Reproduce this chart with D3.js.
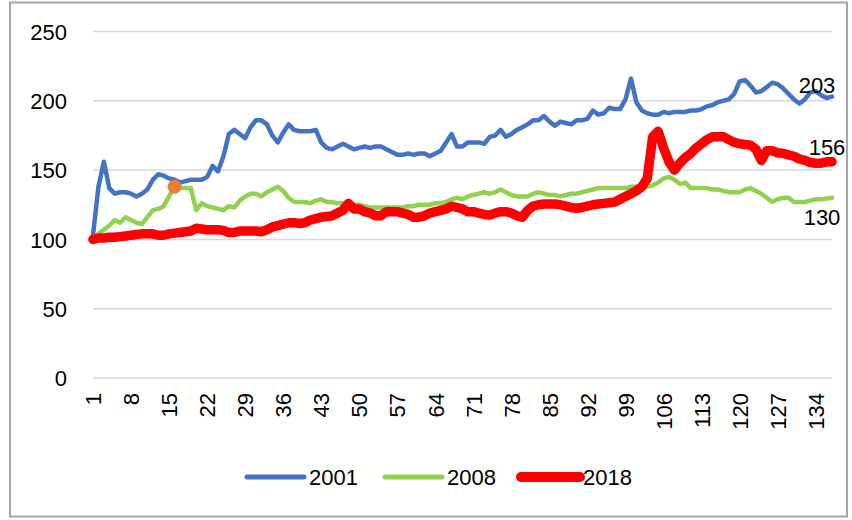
<!DOCTYPE html>
<html>
<head>
<meta charset="utf-8">
<script src="https://cdn.jsdelivr.net/npm/d3@7"></script>
<style>
  body { margin: 0; background: #fff; }
  text { font-family: "Liberation Sans", Arial, sans-serif; fill: #000; }
</style>
</head>
<body>
<div id="app"></div>
<script>
// values, one per period (1..137)
const s2001 = [103, 138, 156, 137, 133, 134, 134, 133, 131, 133, 136, 143, 147, 146, 144, 143, 141, 142, 143, 143,
  143, 145, 153, 149, 160, 176, 179, 176, 173, 181, 186, 186, 183, 175, 170, 177, 183, 179, 178, 178,
  178, 179, 170, 166, 165, 167, 169, 167, 165, 166, 167, 166, 167, 167, 165, 163, 161, 161, 162, 161,
  162, 162, 160, 162, 164, 170, 176, 167, 167, 170, 170, 170, 169, 174, 175, 179, 174, 176, 179, 181,
  183, 186, 186, 189, 185, 182, 185, 184, 183, 186, 186, 187, 193, 190, 191, 195, 194, 194, 201, 216,
  199, 193, 191, 190, 190, 192, 191, 192, 192, 192, 193, 193, 194, 196, 197, 199, 200, 201, 205, 214,
  215, 211, 206, 207, 210, 213, 212, 209, 205, 201, 198, 201, 206, 207, 204, 202, 203];

const s2008 = [100, 104, 107, 110, 114, 112, 116, 114, 112, 111, 116, 121, 122, 124, 131, 138, 137, 137, 137, 121,
  126, 124, 123, 122, 121, 124, 123, 128, 131, 133, 133, 131, 134, 136, 138, 135, 130, 127, 127, 127,
  126, 128, 129, 127, 127, 126, 126, 126, 125, 125, 124, 123, 123, 123, 123, 123, 123, 123, 124, 124,
  125, 125, 125, 126, 126, 127, 129, 130, 129, 131, 132, 133, 134, 133, 134, 136, 134, 132, 131, 131,
  131, 133, 134, 133, 132, 132, 131, 132, 133, 133, 134, 135, 136, 137, 137, 137, 137, 137, 137, 138,
  138, 138, 138, 139, 141, 144, 145, 143, 140, 141, 137, 137, 137, 137, 136, 136, 135, 134, 134, 134,
  136, 137, 135, 133, 130, 127, 129, 130, 130, 127, 127, 127, 128, 129, 129, 129.5, 130];

const s2018 = [100, 101, 101, 101.5, 101.5, 102, 102.5, 103, 103.5, 104, 104, 104, 103, 103, 104, 104.5, 105, 105.5, 106, 108,
  107.5, 107, 107, 107, 106.5, 105, 105, 106, 106, 106, 106, 105.5, 107, 109, 110, 111, 112, 112, 111.5, 112,
  114, 115, 116, 116.5, 117, 119, 121, 126, 122, 122, 120, 119, 117, 117, 120, 120, 120, 119, 118, 116,
  116, 117, 119, 120, 121, 122, 124, 123, 122, 120, 120, 119, 118, 117.5, 119, 120, 120, 119, 117, 116,
  121, 124, 125, 125.5, 125.5, 125.5, 125, 124, 123, 122.5, 123, 124, 125, 125.5, 126, 126.5, 127, 129, 131, 133,
  135, 138, 144, 174, 178, 166, 156, 150, 155, 159, 162, 166, 169, 172, 174, 174, 174, 172, 170, 169,
  168.5, 168, 165, 157, 164, 164, 162.5, 162, 161, 160, 158, 157, 155.5, 155, 155, 156, 156];

const seriesNames = ["2001", "2008", "2018"];
const xTicks = d3.range(1, 138, 7);          // 1, 8, ..., 134
const yTicks = [0, 50, 100, 150, 200, 250];
const highlightIndex = 16;                   // orange point on the 2008 line

const series = [
  { name: seriesNames[0], values: s2001, color: "#4472C4", width: 4.5, label: { dx: -15, dy: -11 } },
  { name: seriesNames[1], values: s2008, color: "#92D050", width: 4.5, label: { dx: -10, dy: 19 } },
  { name: seriesNames[2], values: s2018, color: "#FF0000", width: 9.5, label: { dx: -5, dy: -14 } }
];

const W = 852, H = 520;
const svg = d3.select("#app").append("svg").attr("width", W).attr("height", H);

svg.append("rect").attr("x", 0).attr("y", 0).attr("width", W).attr("height", H).attr("fill", "#fff");
svg.append("rect")
  .attr("x", 10).attr("y", 2.5).attr("width", 837).attr("height", 514)
  .attr("fill", "none").attr("stroke", "#a6a6a6").attr("stroke-width", 2);

const x = d3.scaleLinear().domain([1, 137]).range([93, 832]);
const y = d3.scaleLinear().domain([0, 250]).range([378, 31.5]);

// gridlines
svg.append("g").selectAll("line").data(yTicks).join("line")
  .attr("x1", 93).attr("x2", 832)
  .attr("y1", d => y(d)).attr("y2", d => y(d))
  .attr("stroke", "#d9d9d9").attr("stroke-width", 1.5);

// y axis labels
const yAxis = d3.axisLeft(y).tickValues(yTicks).tickSize(0).tickPadding(0);
const gy = svg.append("g").attr("transform", "translate(67,0)").call(yAxis);
gy.select(".domain").remove();
gy.selectAll("text").attr("font-size", 22).attr("font-family", "Liberation Sans, Arial, sans-serif")
  .attr("fill", "#000").attr("x", 0).attr("dy", "0.35em").attr("text-anchor", "end");

// x axis labels, rotated
const xAxis = d3.axisBottom(x).tickValues(xTicks).tickSize(0).tickPadding(0);
const gx = svg.append("g").attr("transform", "translate(0,378)").call(xAxis);
gx.select(".domain").remove();
gx.selectAll("text")
  .attr("font-size", 22).attr("font-family", "Liberation Sans, Arial, sans-serif").attr("fill", "#000")
  .attr("text-anchor", "end")
  .attr("transform", "rotate(-90)")
  .attr("x", -15).attr("y", 0).attr("dy", "0.35em");

const line = d3.line().x((d, i) => x(i + 1)).y(d => y(d));

svg.append("g").selectAll("path").data(series).join("path")
  .attr("d", d => line(d.values))
  .attr("fill", "none")
  .attr("stroke", d => d.color)
  .attr("stroke-width", d => d.width)
  .attr("stroke-linejoin", "round")
  .attr("stroke-linecap", "round");

// highlighted point
svg.append("circle")
  .attr("cx", x(highlightIndex)).attr("cy", y(s2008[highlightIndex - 1]))
  .attr("r", 7).attr("fill", "#ED7D31");

// end labels
svg.append("g").selectAll("text").data(series).join("text")
  .attr("x", d => x(d.values.length) + d.label.dx)
  .attr("y", d => y(d.values[d.values.length - 1]) + d.label.dy)
  .attr("text-anchor", "middle").attr("dy", "0.35em").attr("font-size", 22)
  .text(d => d3.format("d")(Math.round(d.values[d.values.length - 1])));

// legend
const legendX = [247, 385, 521];
const lg = svg.append("g").selectAll("g").data(series).join("g")
  .attr("transform", (d, i) => `translate(${legendX[i]},477)`);
lg.append("line").attr("x1", 0).attr("x2", (d, i) => i === 2 ? 59 : 57)
  .attr("stroke", d => d.color).attr("stroke-width", (d, i) => i === 2 ? 10 : 5)
  .attr("stroke-linecap", "round");
lg.append("text").attr("x", 62).attr("dy", "0.35em").attr("font-size", 22)
  .text(d => d.name);
</script>
</body>
</html>
